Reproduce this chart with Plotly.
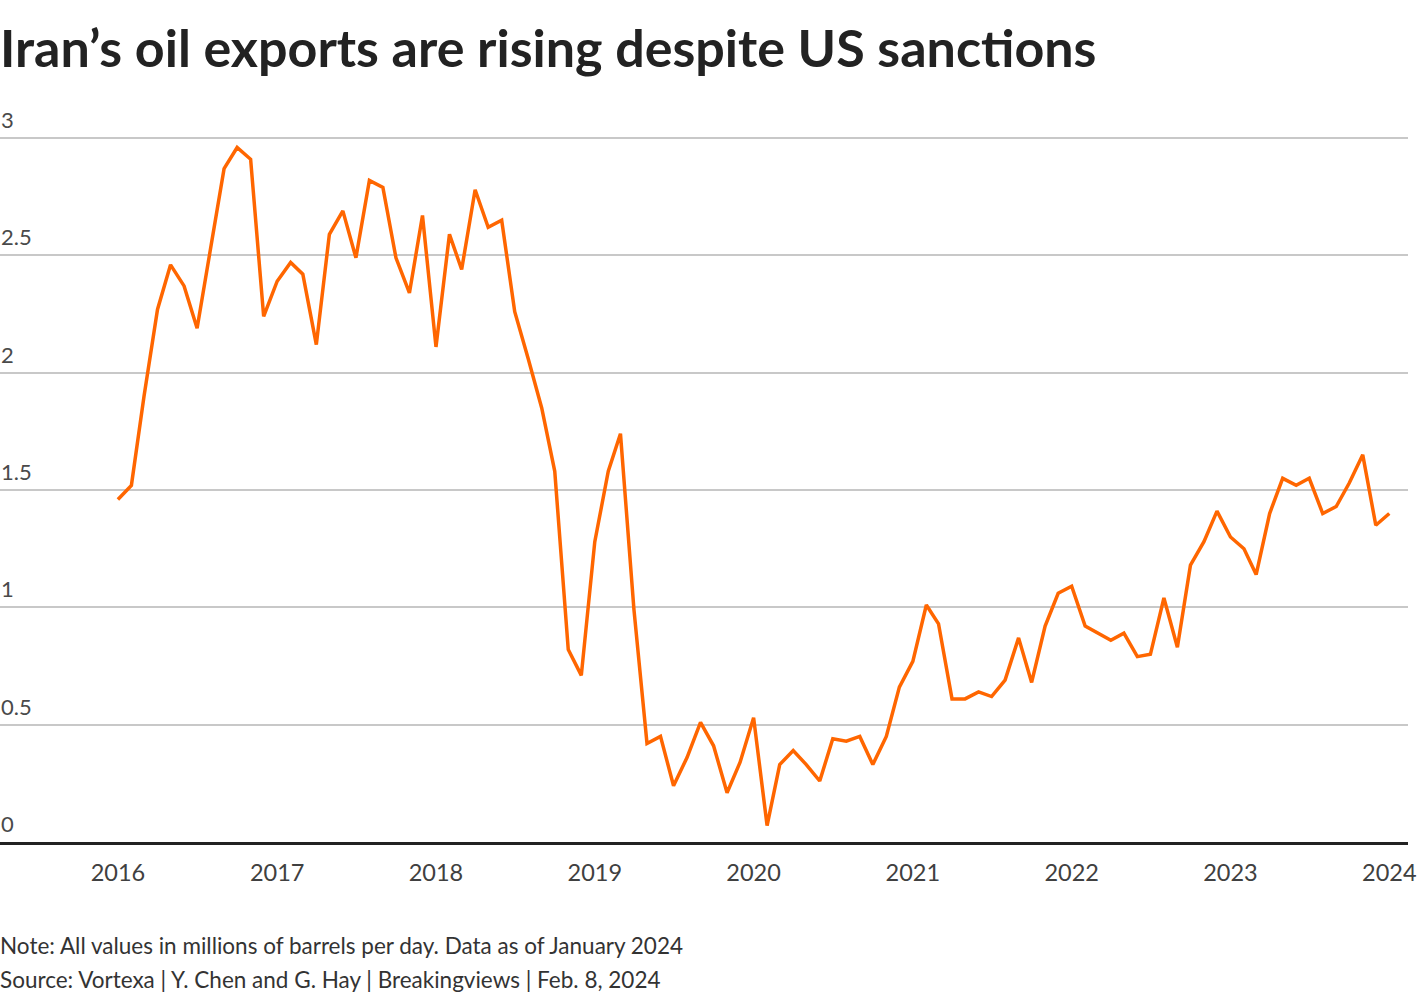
import plotly.graph_objects as go
import pandas as pd

# Monthly Iranian oil exports, million barrels per day (Jan 2016 - Jan 2024)
months = pd.date_range("2016-01-01", "2024-01-01", freq="MS")
exports = [
    # 2016
    1.46, 1.52, 1.90, 2.27, 2.46, 2.37, 2.19, 2.53, 2.87, 2.96, 2.91, 2.24,
    # 2017
    2.39, 2.47, 2.42, 2.12, 2.59, 2.69, 2.49, 2.82, 2.79, 2.49, 2.34, 2.67,
    # 2018
    2.11, 2.59, 2.44, 2.78, 2.62, 2.65, 2.26, 2.06, 1.85, 1.58, 0.82, 0.71,
    # 2019
    1.28, 1.58, 1.74, 0.99, 0.42, 0.45, 0.24, 0.36, 0.51, 0.41, 0.21, 0.34,
    # 2020
    0.53, 0.07, 0.33, 0.39, 0.33, 0.26, 0.44, 0.43, 0.45, 0.33, 0.45, 0.66,
    # 2021
    0.77, 1.01, 0.93, 0.61, 0.61, 0.64, 0.62, 0.69, 0.87, 0.68, 0.92, 1.06,
    # 2022
    1.09, 0.92, 0.89, 0.86, 0.89, 0.79, 0.80, 1.04, 0.83, 1.18, 1.28, 1.41,
    # 2023
    1.30, 1.25, 1.14, 1.40, 1.55, 1.52, 1.55, 1.40, 1.43, 1.53, 1.65, 1.35,
    # 2024
    1.40,
]

year_ticks = [f"{y}-01-01" for y in range(2016, 2025)]
year_labels = [str(y) for y in range(2016, 2025)]
y_ticks = [0, 0.5, 1, 1.5, 2, 2.5, 3]
y_labels = ["0", "0.5", "1", "1.5", "2", "2.5", "3"]

FONT = "Lato"

fig = go.Figure()
fig.add_trace(go.Scatter(
    x=months, y=exports, mode="lines",
    line=dict(color="#ff6600", width=3.5),
    hoverinfo="x+y", showlegend=False,
))

annotations = [
    dict(text=lab, xref="paper", yref="y", x=0, y=val,
         xanchor="left", yanchor="bottom", xshift=-1, yshift=3, showarrow=False,
         font=dict(family=FONT, size=22, color="#4a4a4a"))
    for val, lab in zip(y_ticks, y_labels)
]
annotations += [
    dict(text="Note: All values in millions of barrels per day. Data as of January 2024",
         xref="paper", yref="paper", x=0, y=-0.1434, xanchor="left", yanchor="middle",
         xshift=-2, showarrow=False, font=dict(family=FONT, size=22.5, color="#333333")),
    dict(text="Source: Vortexa | Y. Chen and G. Hay | Breakingviews | Feb. 8, 2024",
         xref="paper", yref="paper", x=0, y=-0.1903, xanchor="left", yanchor="middle",
         xshift=-2, showarrow=False, font=dict(family=FONT, size=22.5, color="#333333")),
]

fig.update_layout(
    width=1420, height=1000,
    margin=dict(l=0, r=12, t=117, b=158),
    paper_bgcolor="white", plot_bgcolor="white",
    font=dict(family=FONT, color="#404040"),
    title=dict(
        text="<b>Iran’s oil exports are rising despite US sanctions</b>",
        x=0.0, xref="container", xanchor="left",
        y=0.951, yref="container", yanchor="middle",
        font=dict(family=FONT, size=52, color="#222222"),
    ),
    xaxis=dict(
        range=["2015-04-05", "2024-02-13"],
        tickvals=year_ticks, ticktext=year_labels,
        showgrid=False, zeroline=False,
        showline=True, linecolor="#222222", linewidth=2.5,
        ticks="outside", ticklen=8, tickcolor="rgba(0,0,0,0)",
        tickfont=dict(family=FONT, size=23.5, color="#404040"),
        fixedrange=True,
    ),
    yaxis=dict(
        range=[0, 3.09],
        tickvals=y_ticks, ticktext=y_labels,
        showticklabels=False,
        showgrid=True, gridcolor="#c8c8c8", gridwidth=1.5,
        zeroline=False, showline=False, ticks="",
        fixedrange=True,
    ),
    annotations=annotations,
)

fig.write_html("out.html", config={"displayModeBar": False},
               post_script="document.body.style.margin='0px';")
